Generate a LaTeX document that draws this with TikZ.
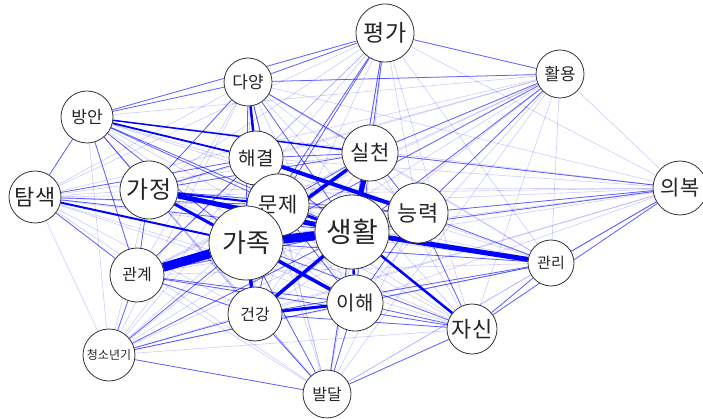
\documentclass[tikz,border=0pt]{standalone}
\usepackage{fontspec}
\setmainfont{Noto Sans CJK KR}
\pgfdeclarelayer{bg}
\pgfsetlayers{bg,main}
\tikzset{
  nd/.style={circle,draw=black!80,fill=white,line width=0.8pt,inner sep=0pt,text=black!85},
  ezero/.style={draw=blue,opacity=0.2,line width=0.6pt},
  eone/.style={draw=blue,opacity=0.55,line width=0.8pt},
  etwo/.style={draw=blue,line width=#1},
}
\newcommand\fs[1]{\fontsize{#1}{#1}\selectfont}
\begin{document}
\begin{tikzpicture}[x=1pt,y=-1pt]
\useasboundingbox (0,0) rectangle (703,419);
\node[nd,minimum size=58pt,font=\fs{23}] (pg) at (385,33) {평가};
\node[nd,minimum size=48pt,font=\fs{17}] (hy) at (560,74) {활용};
\node[nd,minimum size=54pt,font=\fs{21}] (ub) at (680,188) {의복};
\node[nd,minimum size=48pt,font=\fs{17}] (dy) at (248,82) {다양};
\node[nd,minimum size=52pt,font=\fs{17}] (ba) at (87,117) {방안};
\node[nd,minimum size=54pt,font=\fs{19}] (hg) at (256,158) {해결};
\node[nd,minimum size=56pt,font=\fs{21}] (sc) at (370,153) {실천};
\node[nd,minimum size=52pt,font=\fs{22}] (ts) at (35,197) {탐색};
\node[nd,minimum size=58pt,font=\fs{24}] (gj) at (149,190) {가정};
\node[nd,minimum size=62pt,font=\fs{21}] (mj) at (278,205) {문제};
\node[nd,minimum size=60pt,font=\fs{22}] (nr) at (418,213) {능력};
\node[nd,minimum size=74pt,font=\fs{28}] (sh) at (352,232) {생활};
\node[nd,minimum size=74pt,font=\fs{26}] (gk) at (246,243) {가족};
\node[nd,minimum size=46pt,font=\fs{15}] (gr) at (551,263) {관리};
\node[nd,minimum size=54pt,font=\fs{16}] (gy) at (137,275) {관계};
\node[nd,minimum size=54pt,font=\fs{16}] (gg) at (255,314) {건강};
\node[nd,minimum size=56pt,font=\fs{20}] (ih) at (355,303) {이해};
\node[nd,minimum size=50pt,font=\fs{22}] (js) at (472,329) {자신};
\node[nd,minimum size=52pt,font=\fs{12}] (cs) at (109,355) {청소년기};
\node[nd,minimum size=48pt,font=\fs{16}] (bd) at (327,394) {발달};
\begin{pgfonlayer}{bg}
\foreach \a [count=\i] in {pg,hy,ub,dy,ba,hg,sc,ts,gj,mj,nr,sh,gk,gr,gy,gg,ih,js,cs,bd}{
  \foreach \b [count=\j] in {pg,hy,ub,dy,ba,hg,sc,ts,gj,mj,nr,sh,gk,gr,gy,gg,ih,js,cs,bd}{
    \ifnum\j>\i \draw[ezero] (\a) -- (\b); \fi
  }
}
\foreach \a/\b in {pg/hy,pg/sc,pg/dy,pg/ba,pg/mj,pg/gk,pg/sh,
  hy/dy,hy/sc,hy/nr,hy/gk,hy/sh,
  ub/sc,ub/nr,ub/sh,ub/gr,ub/js,
  dy/ba,dy/mj,dy/gk,dy/sh,dy/sc,dy/gj,
  ba/ts,ba/mj,ba/gk,ba/gj,ba/sh,ba/gy,
  hg/gj,hg/sc,hg/gk,hg/sh,hg/mj,hg/gy,hg/ts,
  sc/mj,sc/nr,sc/gj,sc/ih,
  ts/mj,ts/sh,ts/gy,
  gj/mj,gj/gy,gj/nr,gj/ih,
  mj/nr,mj/gk,mj/ih,mj/gg,
  nr/gk,nr/js,nr/ih,nr/gr,
  sh/gy,sh/gg,sh/bd,sh/cs,
  gk/js,gk/gr,gk/bd,gk/cs,
  gr/ih,gr/js,gr/gg,
  gy/gg,gy/ih,gy/js,gy/cs,
  gg/js,gg/bd,gg/cs,
  ih/js,ih/bd,ih/cs,
  js/bd,cs/bd}
  {\draw[eone] (\a) -- (\b);}
\foreach \a/\b/\w in {gk/gy/9pt,gk/sh/9pt,gj/sh/5pt,sh/gr/5pt,sc/sh/5pt,hg/nr/4pt,
  sc/gk/3.5pt,gk/ih/3.5pt,gg/sh/3.5pt,gk/gg/3.5pt,gg/ih/3pt,sh/ih/2.5pt,sh/js/2.5pt,
  gj/gk/3pt,ba/hg/1.8pt,ba/sc/1.5pt,dy/hg/2.5pt,ts/gk/2pt,mj/sh/3pt,gj/mj/2pt}
  {\draw[etwo=\w] (\a) -- (\b);}
\end{pgfonlayer}
\end{tikzpicture}
\end{document}
